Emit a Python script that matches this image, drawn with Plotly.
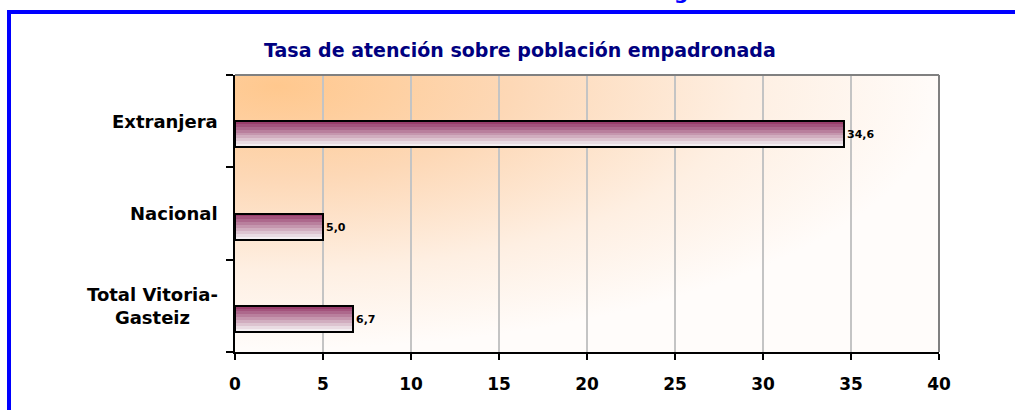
import base64
import plotly.graph_objects as go

# data
categorias = ["Total Vitoria-<br>Gasteiz", "Nacional", "Extranjera"]
tasas = [6.7, 5.0, 34.6]
x_ticks = [0, 5, 10, 15, 20, 25, 30, 35, 40]
titulo = "Tasa de atención sobre población empadronada"

# page geometry (px)
W, H = 1015, 410
L, R, T, B = 235, 76, 75, 58
PW, PH = W - L - R, H - T - B

FONT = "DejaVu Sans, Arial, sans-serif"

# bar striping (top -> bottom), purple fading to white
stripes = ["#993d6b", "#a3537c", "#ad688c", "#b97f9d", "#c596ae",
           "#d1adbf", "#ddc4d0", "#e9dbe2", "#f4eef1"]
bar_w = 0.282


def px_x(px):
    return (px - L) / PW


def px_y(py):
    return (H - B - py) / PH


fig = go.Figure()

h = bar_w / len(stripes)
for i, col in enumerate(stripes):
    fig.add_trace(go.Bar(
        x=tasas, y=categorias, orientation="h",
        width=h * 1.05, offset=-(i + 1) * h,
        marker=dict(color=col, line=dict(width=0)),
        hoverinfo="skip", showlegend=False,
    ))

# outline + value labels
fig.add_trace(go.Bar(
    x=tasas, y=categorias, orientation="h",
    width=bar_w, offset=-bar_w,
    marker=dict(color="rgba(0,0,0,0)", line=dict(color="black", width=2)),
    texttemplate="%{x:.1f}", textposition="outside",
    textfont=dict(family=FONT, size=11, color="black", weight="bold"),
    cliponaxis=False, showlegend=False,
))

# gradient background of the plot area
svg = f"""<svg xmlns='http://www.w3.org/2000/svg' width='{PW}' height='{PH}' preserveAspectRatio='none'>
<defs><radialGradient id='g' cx='0.06' cy='0.04' r='0.95'>
<stop offset='0' stop-color='#ffc88e'/>
<stop offset='0.35' stop-color='#fdd8b6'/>
<stop offset='0.7' stop-color='#feefe2'/>
<stop offset='1' stop-color='#fffcfa'/>
</radialGradient></defs>
<rect width='100%' height='100%' fill='url(#g)'/></svg>"""
src = "data:image/svg+xml;base64," + base64.b64encode(svg.encode()).decode()

# category labels (centred lines)
annotations = [
    dict(text=c, x=px_x(220), y=c, xref="paper", yref="y",
         xanchor="right", yanchor="middle", align="center", showarrow=False,
         font=dict(family=FONT, size=18, color="black", weight="bold"))
    for c in categorias
]
annotations.append(dict(
    text=titulo, x=px_x(520), y=px_y(50), xref="paper", yref="paper",
    xanchor="center", yanchor="middle", showarrow=False,
    font=dict(family=FONT, size=19, color="#000080", weight="bold")))
annotations.append(dict(
    text="g", x=px_x(681), y=px_y(6), xref="paper", yref="paper",
    xanchor="center", yanchor="bottom", showarrow=False,
    font=dict(family=FONT, size=20, color="#0000ff", weight="bold")))

shapes = [
    # blue frame
    dict(type="line", xref="paper", yref="paper", x0=px_x(7), x1=px_x(1020),
         y0=px_y(12), y1=px_y(12), line=dict(color="#0000ff", width=4)),
    dict(type="line", xref="paper", yref="paper", x0=px_x(9), x1=px_x(9),
         y0=px_y(10), y1=px_y(420), line=dict(color="#0000ff", width=4)),
    # plot area border (top / right)
    dict(type="line", xref="paper", yref="paper", x0=0, x1=1, y0=1, y1=1,
         line=dict(color="#808080", width=2)),
    dict(type="line", xref="paper", yref="paper", x0=1, x1=1, y0=0, y1=1,
         line=dict(color="#808080", width=2)),
]

fig.update_layout(
    width=W, height=H,
    margin=dict(l=L, r=R, t=T, b=B),
    paper_bgcolor="white", plot_bgcolor="rgba(0,0,0,0)",
    barmode="overlay", bargap=0,
    separators=",.",
    showlegend=False,
    images=[dict(source=src, xref="paper", yref="paper", x=0, y=1,
                 sizex=1, sizey=1, sizing="stretch", layer="below")],
    annotations=annotations,
    shapes=shapes,
    xaxis=dict(
        range=[0, 40], tickvals=x_ticks, ticktext=[str(v) for v in x_ticks],
        showgrid=True, gridcolor="#c4c4c4", gridwidth=2,
        showline=True, linecolor="black", linewidth=2,
        ticks="outside", ticklen=6, tickwidth=2, tickcolor="black",
        ticklabelstandoff=10,
        tickfont=dict(family=FONT, size=17, color="black", weight="bold"),
        zeroline=False, fixedrange=True,
    ),
    yaxis=dict(
        type="category", categoryorder="array", categoryarray=categorias,
        range=[-0.5, 2.5], tickson="boundaries",
        showticklabels=False, showgrid=False,
        showline=True, linecolor="black", linewidth=2,
        ticks="outside", ticklen=7, tickwidth=2, tickcolor="black",
        zeroline=False, fixedrange=True,
    ),
)

fig.write_html("out.html", config={"displayModeBar": False},
               post_script="document.body.style.margin='0';")
